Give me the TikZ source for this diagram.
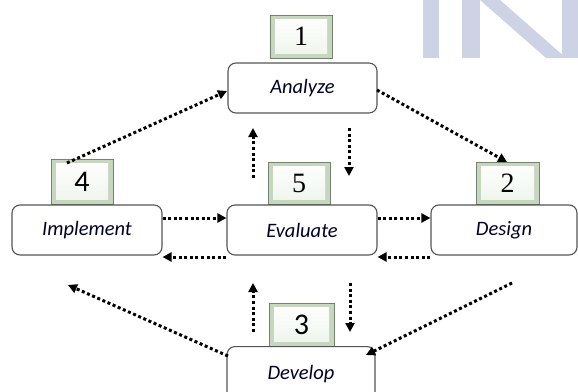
\documentclass[tikz,border=0pt]{standalone}
\usepackage{fontspec}
\setmainfont{Liberation Serif}
\newfontfamily\carl{Carlito}
\usetikzlibrary{arrows.meta}
\definecolor{wm}{HTML}{CDD2E4}
\definecolor{numedge}{HTML}{72836E}
\definecolor{numout}{HTML}{C6D6BF}
\definecolor{numin}{HTML}{EEF4EB}
\definecolor{boxedge}{HTML}{555555}
\tikzset{
  stagebox/.style={draw=boxedge, line width=1.1pt, rounded corners=8pt, fill=white,
    minimum width=149pt, minimum height=50pt, inner sep=0pt,
    font=\carl\itshape\fontsize{20.5}{22}\selectfont, text=black!85!blue},
  numbox/.style={draw=numedge, line width=0.9pt, fill=numout,
    minimum width=62pt, minimum height=43pt, inner sep=0pt,
    path picture={
      \fill[top color=white, bottom color=numin]
        ([shift={(5pt,-4pt)}]path picture bounding box.north west) rectangle
        ([shift={(-5pt,5pt)}]path picture bounding box.south east);
    }},
  serifnum/.style={font=\fontsize{28}{30}\selectfont},
  sansnum/.style={font=\carl\fontsize{30}{32}\selectfont},
  flow/.style={line width=3pt, dash pattern=on 3pt off 2.6pt,
    -{Triangle[length=9pt,width=9pt]}, shorten >=0pt},
}
\begin{document}
\begin{tikzpicture}[x=1pt,y=-1pt]
\clip (0,0) rectangle (578,391);
\useasboundingbox (0,0) rectangle (578,391);
% watermark
\fill[wm] (423,0) rectangle (439,58);
\fill[wm] (462,0) rectangle (480,58);
\fill[wm] (480,0) -- (500,0) -- (566,58) -- (546,58) -- cycle;
\fill[wm] (562,0) rectangle (578,58);

% numbered boxes
\node[numbox, serifnum, minimum width=62pt, minimum height=43pt] (n1) at (301,36.5) {1};
\node[numbox, sansnum, minimum width=62pt, minimum height=45pt] (n4) at (82,181.5) {4};
\node[numbox, serifnum, minimum width=62pt, minimum height=42pt] (n5) at (299,183) {5};
\node[numbox, serifnum, minimum width=63pt, minimum height=42pt] (n2) at (507.5,183) {2};
\node[numbox, sansnum, minimum width=65pt, minimum height=43pt] (n3) at (301.5,324.5) {3};

% stage boxes
\node[stagebox] (A) at (302.5,88) {Analyze};
\node[stagebox, minimum width=150pt] (I) at (87,230) {Implement};
\node[stagebox, minimum width=150pt] (E) at (302,230) {Evaluate};
\node[stagebox, minimum width=146pt] (D) at (504,230) {Design};
\node[stagebox, minimum width=148pt, minimum height=60pt, anchor=north] (V) at (301,346) {\raisebox{8pt}{Develop}};

% free ends
\coordinate (s1) at (67,163);
\coordinate (t1) at (227,91);
\coordinate (s2) at (377,90);
\coordinate (t2) at (507,162);
\coordinate (s9) at (228,356);
\coordinate (t9) at (68,285);
\coordinate (s10) at (512,283);
\coordinate (t10) at (366,355);
\coordinate (u1s) at (253,178);
\coordinate (u1t) at (253,128);
\coordinate (d1s) at (349,128);
\coordinate (d1t) at (349,176);
\coordinate (u2s) at (253,332);
\coordinate (u2t) at (253,283);
\coordinate (d2s) at (350,283);
\coordinate (d2t) at (350,332);

% connectors
\draw[flow] (s1) -- (t1);
\draw[flow] (s2) -- (t2);
\draw[flow] (u1s) -- (u1t);
\draw[flow] (d1s) -- (d1t);
\draw[flow] (I.east |- 0,218) -- (E.west |- 0,218);
\draw[flow] (E.west |- 0,257) -- (I.east |- 0,257);
\draw[flow] (E.east |- 0,218) -- (D.west |- 0,218);
\draw[flow] (D.west |- 0,257) -- (E.east |- 0,257);
\draw[flow] (s9) -- (t9);
\draw[flow] (s10) -- (t10);
\draw[flow] (u2s) -- (u2t);
\draw[flow] (d2s) -- (d2t);
\end{tikzpicture}
\end{document}
